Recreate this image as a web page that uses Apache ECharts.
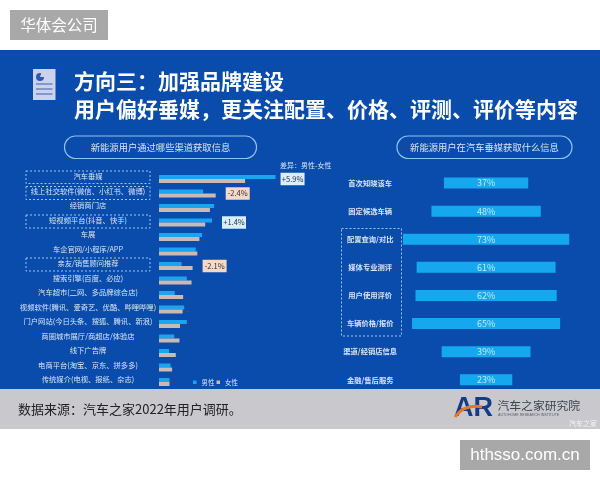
<!DOCTYPE html>
<html><head><meta charset="utf-8">
<style>html,body{margin:0;padding:0;background:#fff}#c{width:600px;height:480px}</style>
<script src="https://cdn.jsdelivr.net/npm/echarts@6/dist/echarts.min.js"></script>
</head><body><div id="c"></div>
<script>
const channels = ['汽车垂媒','线上社交软件(微信、小红书、微博)','经销商门店','短视频平台(抖音、快手)','车展','车企官网/小程序/APP','亲友/销售顾问推荐','搜索引擎(百度、必应)','汽车超市(二网、多品牌综合店)','视频软件(腾讯、爱奇艺、优酷、哔哩哔哩)','门户网站(今日头条、搜狐、腾讯、新浪)','商圈城市展厅/商超店/体验店','线下广告牌','电商平台(淘宝、京东、拼多多)','传统媒介(电视、报纸、杂志)'];
const male   = [22.2,8.4,10.5,10.1,8.2,7.0,4.3,5.3,3.0,4.8,5.3,2.9,1.9,2.2,2.0];
const female = [16.4,10.8,9.7,8.8,7.7,7.3,6.4,6.2,4.6,4.5,4.0,3.9,3.2,2.5,2.0];
const gaps   = [5.9,-2.4,null,1.4,null,null,-2.1,null,null,null,null,null,null,null,null];
const infoTypes = ['首次知晓该车','固定候选车辆','配置查询/对比','媒体专业测评','用户使用评价','车辆价格/报价','渠道/经销店信息','金融/售后服务'];
const infoShare = [37,48,73,61,62,65,39,23];

const FONT = '"Noto Sans CJK SC","Noto Sans",sans-serif';
const BLUE = '#1aa5ee', TAN = '#cbb9b3', LIGHT = '#d6e4f7';

function tagged(values, sign, dy) {
  return values.map((v, i) => {
    const g = gaps[i];
    if (g === null || Math.sign(g) !== sign) return v;
    return { value: v, label: {
      show: true, position: 'right', distance: i === 0 ? 5 : 10, offset: [0, dy],
      formatter: '{t|' + (g > 0 ? '+' : '-') + Math.abs(g).toFixed(1) + '%}',
      rich: { t: {
        width: 24, height: 12.5, lineHeight: 12.5, align: 'center',
        backgroundColor: g > 0 ? '#d8eefb' : '#f5d9c6', color: '#2b3340',
        fontFamily: FONT, fontSize: 7.5
      } }
    }};
  });
}
function txt(text, x, y, size, color, extra) {
  return { type: 'text', x, y, silent: true, style: Object.assign({
    text, fill: color, fontSize: size, fontFamily: FONT, verticalAlign: 'middle'
  }, extra || {}) };
}
function box(x, y, w, h, fill) { return { type: 'rect', shape: { x, y, width: w, height: h }, style: { fill } }; }
function dashed(x, y, w, h) {
  return { type: 'rect', shape: { x, y, width: w, height: h },
    style: { fill: 'none', stroke: '#9cc4f0', lineWidth: 1, lineDash: [2, 2] } };
}
function pill(x, y, w, h) {
  return { type: 'rect', shape: { x, y, width: w, height: h, r: h / 2 },
    style: { fill: 'none', stroke: '#8fc2f5', lineWidth: 1.2 } };
}
const iconLine = y => ({ type: 'line', shape: { x1: 36, y1: y, x2: 52.5, y2: y }, style: { stroke: '#3c5da8', lineWidth: 1 } });

const graphic = [
  box(0, 50, 600, 339, '#0a4cab'),
  box(0, 389, 600, 40, '#c9c9cd'),
  box(10, 10, 98, 30, '#a8a8a8'),
  box(460, 440, 130, 30, '#a8a8a8'),
  txt('华体会公司', 59, 25, 15.5, '#fff', { align: 'center' }),
  txt('hthsso.com.cn', 525, 455, 17, '#fff', { align: 'center', fontFamily: '"Liberation Sans",sans-serif' }),
  box(33, 69, 22.5, 31, '#cbd3ec'),
  { type: 'sector', shape: { cx: 40, cy: 77, r: 4, startAngle: 0, endAngle: Math.PI * 1.6 }, style: { fill: '#2f59ad' } },
  iconLine(84), iconLine(89), iconLine(94),
  txt('方向三\uFF1A加强品牌建设', 74, 81, 21, '#fff', { fontWeight: 'bold' }),
  txt('用户偏好垂媒\uFF0C更关注配置、价格、评测、评价等内容', 74, 109, 21, '#fff', { fontWeight: 'bold' }),
  pill(64.5, 136, 192, 22.5),
  pill(397, 136, 175, 22.5),
  txt('新能源用户通过哪些渠道获取信息', 160.5, 147, 9.3, LIGHT, { align: 'center' }),
  txt('新能源用户在汽车垂媒获取什么信息', 484.5, 147, 9.3, LIGHT, { align: 'center' }),
  txt('差异\uFF1A', 280, 165, 7, LIGHT),
  txt('男性-女性', 301, 165, 7, LIGHT),
  dashed(26, 171, 124, 12.5),
  dashed(26, 186.5, 124, 13),
  dashed(26, 215, 124, 13),
  dashed(26, 258, 124, 13),
  dashed(341.5, 228.5, 60, 107.5),
  txt('数据来源\uFF1A汽车之家2022年用户调研。', 18, 409.5, 13, '#222'),
  txt('AR', 454, 409, 27, '#133c86', { fontWeight: 'bold', fontFamily: '"Liberation Sans",sans-serif' }),
  { type: 'bezierCurve', shape: { x1: 455, y1: 417, x2: 482, y2: 407, cpx1: 462, cpy1: 407, cpx2: 472, cpy2: 405 },
    style: { fill: 'none', stroke: '#e8762a', lineWidth: 3 } },
  txt('汽车之家研究院', 497.5, 406, 11.8, '#3d4450'),
  txt('AUTOHOME RESEARCH INSTITUTE', 498, 415, 3.6, '#5a6070', { fontFamily: '"Liberation Sans",sans-serif' }),
  txt('汽车之家', 569, 423, 7, 'rgba(255,255,255,0.8)')
].map(g => Object.assign({ z: -1 }, g));

const chart = echarts.init(document.getElementById('c'));
chart.setOption({
  animation: false,
  graphic: { elements: graphic },
  legend: {
    data: ['男性', '女性'], left: 193, top: 379, padding: 0, itemWidth: 3.5, itemHeight: 3.5, itemGap: 2,
    icon: 'rect', textStyle: { color: LIGHT, fontSize: 6.5, fontFamily: FONT }
  },
  grid: [
    { left: 159, top: 171.75, width: 157.5, height: 217.5 },
    { left: 372.2, top: 169, width: 231, height: 224.8 }
  ],
  xAxis: [
    { gridIndex: 0, type: 'value', min: 0, max: 30, show: false },
    { gridIndex: 1, type: 'value', min: 0, max: 100, show: false }
  ],
  yAxis: [
    { gridIndex: 0, type: 'category', inverse: true, data: channels,
      axisLine: { show: false }, axisTick: { show: false },
      axisLabel: { interval: 0, margin: 71, align: 'center', verticalAlign: 'bottom', lineHeight: 5, color: LIGHT, fontSize: 7.3, fontFamily: FONT } },
    { gridIndex: 1, type: 'category', inverse: true, data: infoTypes,
      axisLine: { show: false }, axisTick: { show: false },
      axisLabel: { interval: 0, margin: 2, align: 'center', color: LIGHT, fontSize: 7.3, fontWeight: 'bold', fontFamily: FONT } }
  ],
  series: [
    { name: '男性', type: 'bar', xAxisIndex: 0, yAxisIndex: 0, barWidth: 4, barGap: 0,
      itemStyle: { color: BLUE }, data: tagged(male, 1, 2) },
    { name: '女性', type: 'bar', xAxisIndex: 0, yAxisIndex: 0, barWidth: 4, barGap: 0,
      itemStyle: { color: TAN }, data: tagged(female, -1, -2) },
    { name: 'offset', type: 'bar', xAxisIndex: 1, yAxisIndex: 1, stack: 'c', barWidth: 11,
      itemStyle: { color: 'transparent' }, silent: true, data: infoShare.map(v => (100 - v) / 2) },
    { name: '占比', type: 'bar', xAxisIndex: 1, yAxisIndex: 1, stack: 'c', barWidth: 11,
      itemStyle: { color: '#16a8ee' }, data: infoShare,
      label: { show: true, position: 'inside', formatter: '{c}%', color: '#bfe9ff', fontSize: 9, fontFamily: FONT } }
  ]
});
</script></body></html>
